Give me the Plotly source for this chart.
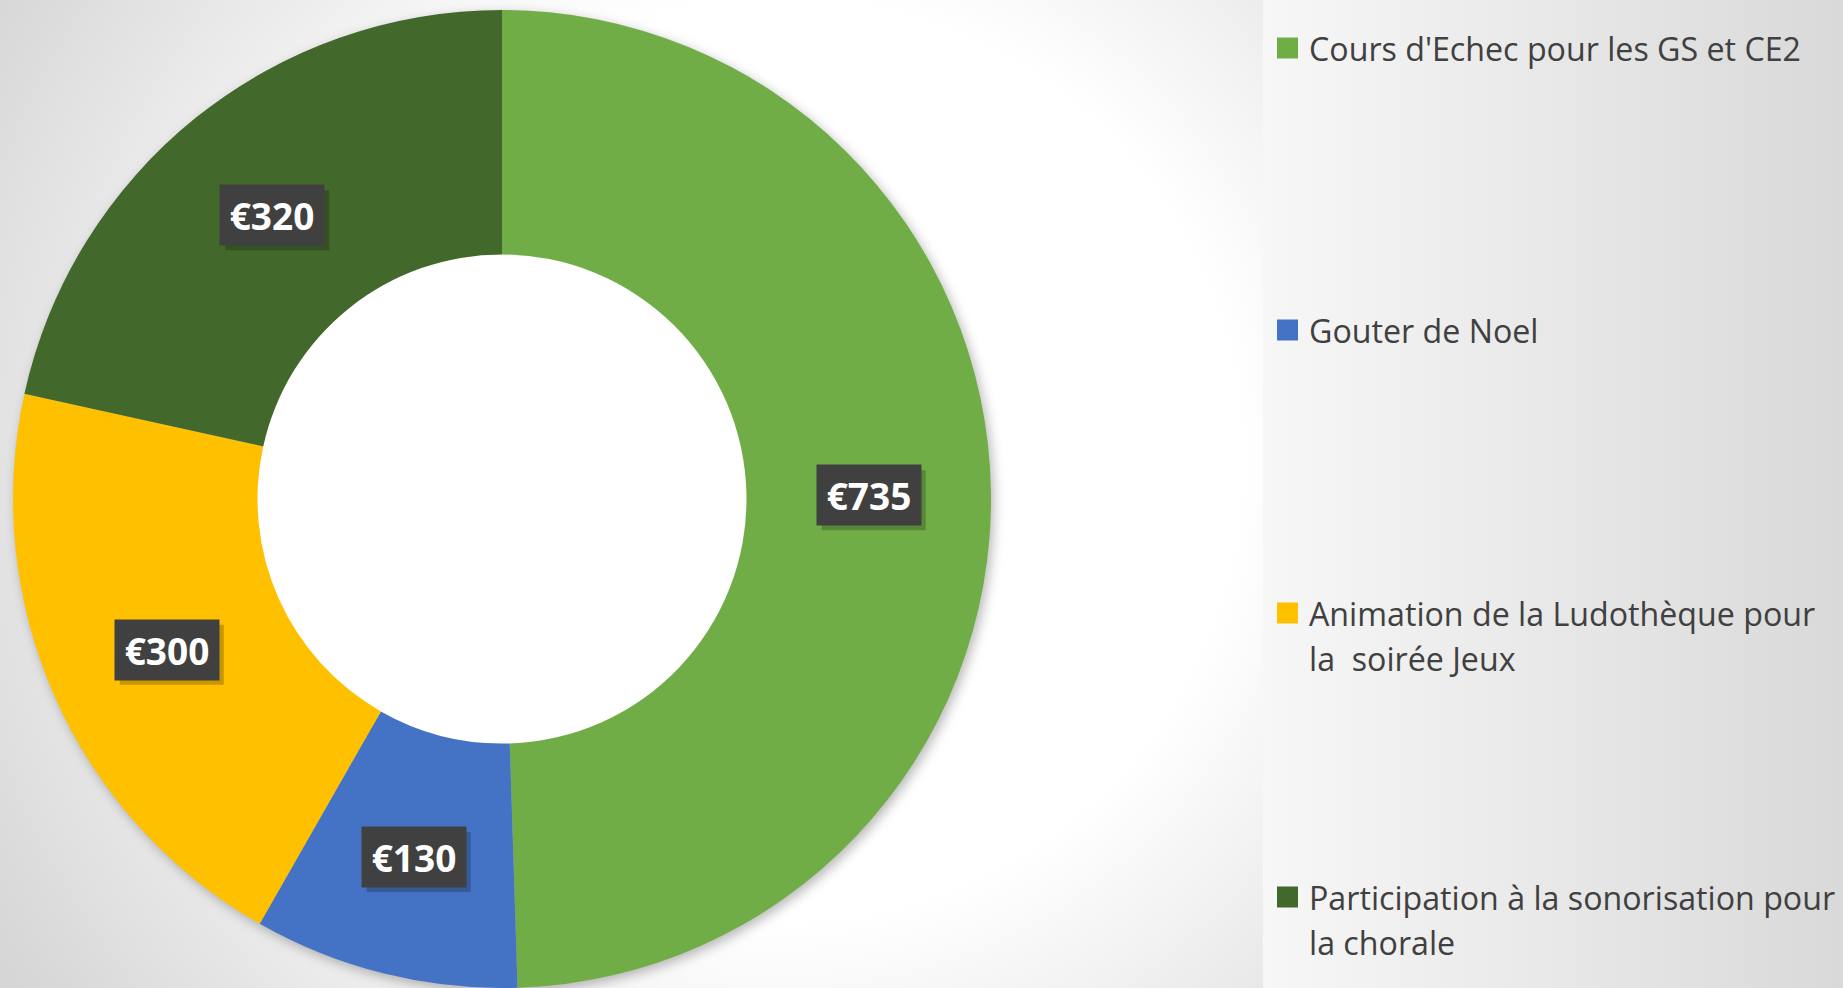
import math
import base64
import plotly.graph_objects as go

# ---------------- data ----------------
categories = [
    "Cours d'Echec pour les GS et CE2",
    "Gouter de Noel",
    "Animation de la Ludothèque pour la  soirée Jeux",
    "Participation à la sonorisation pour la chorale",
]
legend_lines = [
    ["Cours d'Echec pour les GS et CE2"],
    ["Gouter de Noel"],
    ["Animation de la Ludothèque pour", "la  soirée Jeux"],
    ["Participation à la sonorisation pour", "la chorale"],
]
values = [735, 130, 300, 320]
colors = ["#70AD47", "#4472C4", "#FFC000", "#43682B"]

# ---------------- layout geometry ----------------
W, H = 1843, 988
HOLE = 0.5
dom_x = [13 / W, 991 / W]
dom_y = [0.0, 978 / H]
cx_px = (dom_x[0] + dom_x[1]) / 2 * W
cy_px = H - (dom_y[0] + dom_y[1]) / 2 * H
R = min((dom_x[1] - dom_x[0]) * W, (dom_y[1] - dom_y[0]) * H) / 2
r_mid = R * (1 + HOLE) / 2

LABEL_SIZE = 37
LABEL_PAD = 7
LABEL_W = 90
LABEL_H = 46
LEGEND_SIZE = 32.2
LEGEND_LINE = 45


def px(x, y):
    return x / W, 1 - y / H


# ---------------- background (svg gradient + donut shadow) ----------------
svg = f"""<svg xmlns='http://www.w3.org/2000/svg' width='{W}' height='{H}' viewBox='0 0 {W} {H}'>
<defs>
<radialGradient id='g' gradientUnits='userSpaceOnUse' cx='780' cy='460' r='920'>
<stop offset='0.5' stop-color='#ffffff'/><stop offset='1' stop-color='#d6d6d6'/></radialGradient>
<linearGradient id='h' gradientUnits='userSpaceOnUse' x1='1263' y1='0' x2='{W}' y2='0'>
<stop offset='0' stop-color='#f7f7f7'/><stop offset='1' stop-color='#d9d9d9'/></linearGradient>
<filter id='b' x='-20%' y='-20%' width='140%' height='140%'><feGaussianBlur stdDeviation='6'/></filter>
</defs>
<rect x='0' y='0' width='1263' height='{H}' fill='url(#g)'/>
<rect x='1263' y='0' width='{W - 1263}' height='{H}' fill='url(#h)'/>
<circle cx='{cx_px + 3}' cy='{cy_px + 4}' r='{R}' fill='rgba(0,0,0,0.28)' filter='url(#b)'/>
<circle cx='{cx_px}' cy='{cy_px}' r='{R * HOLE + 4}' fill='#ffffff'/>
</svg>"""
bg_src = "data:image/svg+xml;base64," + base64.b64encode(svg.encode("utf-8")).decode("ascii")

fig = go.Figure()
fig.add_trace(
    go.Pie(
        labels=categories,
        values=values,
        hole=HOLE,
        sort=False,
        direction="clockwise",
        rotation=0,
        marker=dict(colors=colors, line=dict(width=0)),
        textinfo="none",
        hoverinfo="label+value",
        showlegend=False,
        domain=dict(x=dom_x, y=dom_y),
    )
)

annotations = []
shapes = []

# data labels at the middle of the ring, computed from the values
total = sum(values)
cum = 0
for v in values:
    theta = 2 * math.pi * (cum + v / 2) / total
    cum += v
    lx = cx_px + r_mid * math.sin(theta)
    ly = cy_px - r_mid * math.cos(theta) + 2
    ax, ay = px(lx, ly)
    txt = f"€{v}"
    # soft shadow box behind the label
    bw = LABEL_W + 2 * LABEL_PAD
    bh = LABEL_H + 2 * LABEL_PAD
    sx0, sy0 = px(lx - bw / 2 + 5, ly - bh / 2 + 5)
    sx1, sy1 = px(lx + bw / 2 + 5, ly + bh / 2 + 5)
    shapes.append(dict(type="rect", xref="paper", yref="paper",
                       x0=sx0, x1=sx1, y0=sy1, y1=sy0,
                       fillcolor="rgba(0,0,0,0.22)", line=dict(width=0), layer="above"))
    annotations.append(dict(
        x=ax, y=ay, xref="paper", yref="paper", text=f"<b>{txt}</b>", showarrow=False,
        xanchor="center", yanchor="middle", width=LABEL_W, height=LABEL_H,
        font=dict(family="Open Sans", size=LABEL_SIZE, color="#FFFFFF"),
        bgcolor="#404040", borderpad=LABEL_PAD,
    ))

# legend (squares + text)
legend_rows = [48, 330, 613, 897]
SQ = 21
for lines, col, yc in zip(legend_lines, colors, legend_rows):
    x0, y0 = px(1277, yc - SQ / 2)
    x1, y1 = px(1277 + SQ, yc + SQ / 2)
    shapes.append(dict(type="rect", xref="paper", yref="paper",
                       x0=x0, x1=x1, y0=y1, y1=y0,
                       fillcolor=col, line=dict(width=0), layer="above"))
    for i, line in enumerate(lines):
        tx, ty = px(1307, yc + i * LEGEND_LINE)
        annotations.append(dict(
            x=tx, y=ty, xref="paper", yref="paper", text=line, showarrow=False,
            xanchor="left", yanchor="middle", align="left",
            font=dict(family="Open Sans", size=LEGEND_SIZE, color="#404040"),
        ))

fig.update_layout(
    width=W, height=H,
    margin=dict(l=0, r=0, t=0, b=0),
    paper_bgcolor="#eeeeee",
    plot_bgcolor="rgba(0,0,0,0)",
    images=[dict(source=bg_src, xref="paper", yref="paper", x=0, y=1,
                 sizex=1, sizey=1, xanchor="left", yanchor="top",
                 sizing="stretch", layer="below")],
    annotations=annotations,
    shapes=shapes,
    showlegend=False,
)

fig.write_html(
    "out.html",
    config={"displayModeBar": False},
    post_script="document.body.style.margin='0';document.body.style.overflow='hidden';"
                "document.documentElement.style.overflow='hidden';",
)
